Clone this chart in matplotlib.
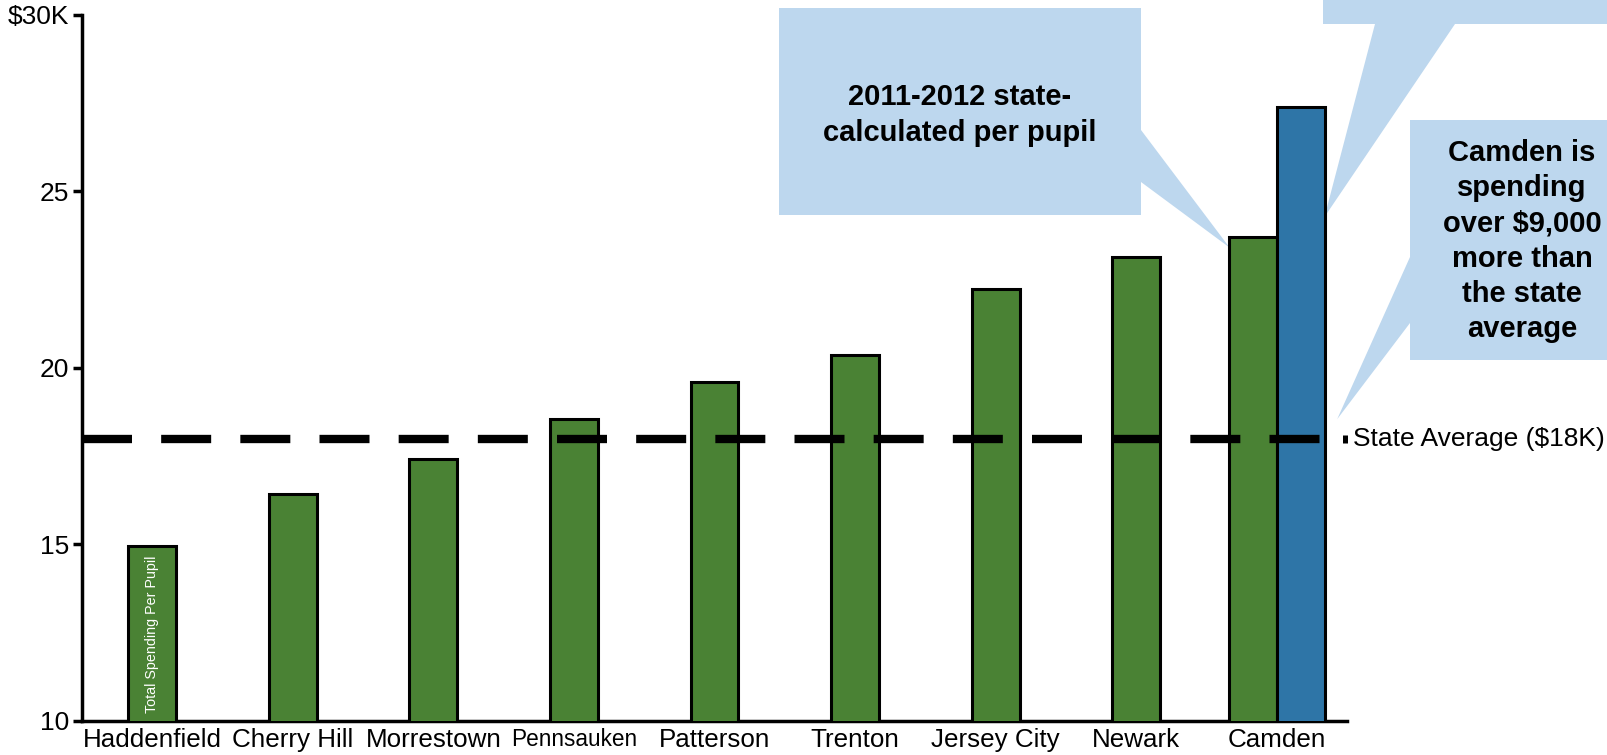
import numpy as np
import matplotlib.pyplot as plt
from matplotlib.patches import Polygon
from matplotlib.transforms import blended_transform_factory

plt.rcParams['font.family'] = ['Liberation Sans', 'DejaVu Sans']

# per pupil spending, $K
districts = ['Haddenfield', 'Cherry Hill', 'Morrestown', 'Pennsauken', 'Patterson',
             'Trenton', 'Jersey City', 'Newark', 'Camden']
state_calc = [14.95, 16.42, 17.41, 18.55, 19.6, 20.38, 22.24, 23.14, 23.71]
camden_total = 27.4
state_avg = 18.0
yticks = [10, 15, 20, 25, 30]
ytick_labels = ['10', '15', '20', '25', '$30K']

green = '#4a8234'
blue = '#2e75a7'
callout = '#bdd7ee'

W, H = 1608, 755
fig = plt.figure(figsize=(W / 100, H / 100), dpi=100)

ax = fig.add_axes([82 / W, 34 / H, 1265 / W, 706 / H], zorder=2)
ax.patch.set_visible(False)

# overlay in pixel coords for the callout boxes
ov = fig.add_axes([0, 0, 1, 1], zorder=1)
ov.set_xlim(0, W)
ov.set_ylim(H, 0)
ov.axis('off')

width = 0.34
x = np.arange(len(districts), dtype=float)
xpos = x.copy()
xpos[-1] = x[-1] - width / 2
ax.bar(xpos, state_calc, width=width, color=green, edgecolor='black',
       linewidth=2.2, zorder=3)
ax.bar(x[-1] + width / 2, camden_total, width=width, color=blue, edgecolor='black',
       linewidth=2.2, zorder=3)

ax.plot([-0.5, 8.5], [state_avg, state_avg], color='black', lw=6,
        linestyle=(0, (6, 3.5)), dash_capstyle='butt', zorder=4)

ax.set_xlim(-0.5, 8.5)
ax.set_ylim(10, 30)
ax.set_yticks(yticks)
ax.set_yticklabels(ytick_labels, fontsize=19)
ax.set_xticks(x)
ax.set_xticklabels(districts, fontsize=18.7)
ax.get_xticklabels()[3].set_fontsize(16.3)
ax.tick_params(axis='x', length=0, pad=5)
ax.tick_params(axis='y', length=6.5, width=2.5, pad=3)
for s in ['top', 'right']:
    ax.spines[s].set_visible(False)
for s in ['left', 'bottom']:
    ax.spines[s].set_linewidth(2.5)

ax.text(0, 12.45, 'Total Spending Per Pupil', rotation=90, color='white',
        fontsize=10.3, ha='center', va='center', zorder=5)

# state average key
bt = blended_transform_factory(ax.transAxes, ax.transData)
ax.plot([0.9988], [state_avg], marker='|', ms=6, mew=3.6, color='black',
        transform=bt, clip_on=False)
ax.text(1.005, state_avg, 'State Average ($18K)', transform=bt, fontsize=19,
        ha='left', va='center')


def to_px(xd, yd):
    px, py = ax.transData.transform((xd, yd))
    return px, H - py


# callout tips point at the Camden bars
tip1 = to_px(x[-1] - width + 0.005, state_calc[-1] - 0.3)
tip2 = to_px(x[-1] + width, 24.28)
tip3 = to_px(8.43, 18.55)

box1 = [(779, 8), (1141, 8), (1141, 130), tip1, (1141, 182), (1141, 215), (779, 215)]
box2 = [(1323, 0), (1640, 0), (1640, 24), (1455, 24), tip2, (1375, 24), (1323, 24)]
box3 = [(1410, 120), (1640, 120), (1640, 360), (1410, 360), (1410, 323), tip3, (1410, 257)]
for verts in (box1, box2, box3):
    ov.add_patch(Polygon(verts, closed=True, facecolor=callout, edgecolor='none'))

ov.text(960, 115, '2011-2012 state-\ncalculated per pupil', fontsize=21, fontweight='bold',
        ha='center', va='center', linespacing=1.35)
ov.text(1522, 241, 'Camden is\nspending\nover $9,000\nmore than\nthe state\naverage',
        fontsize=21, fontweight='bold', ha='center', va='center', linespacing=1.33)

fig.savefig('out.png', dpi=100)
